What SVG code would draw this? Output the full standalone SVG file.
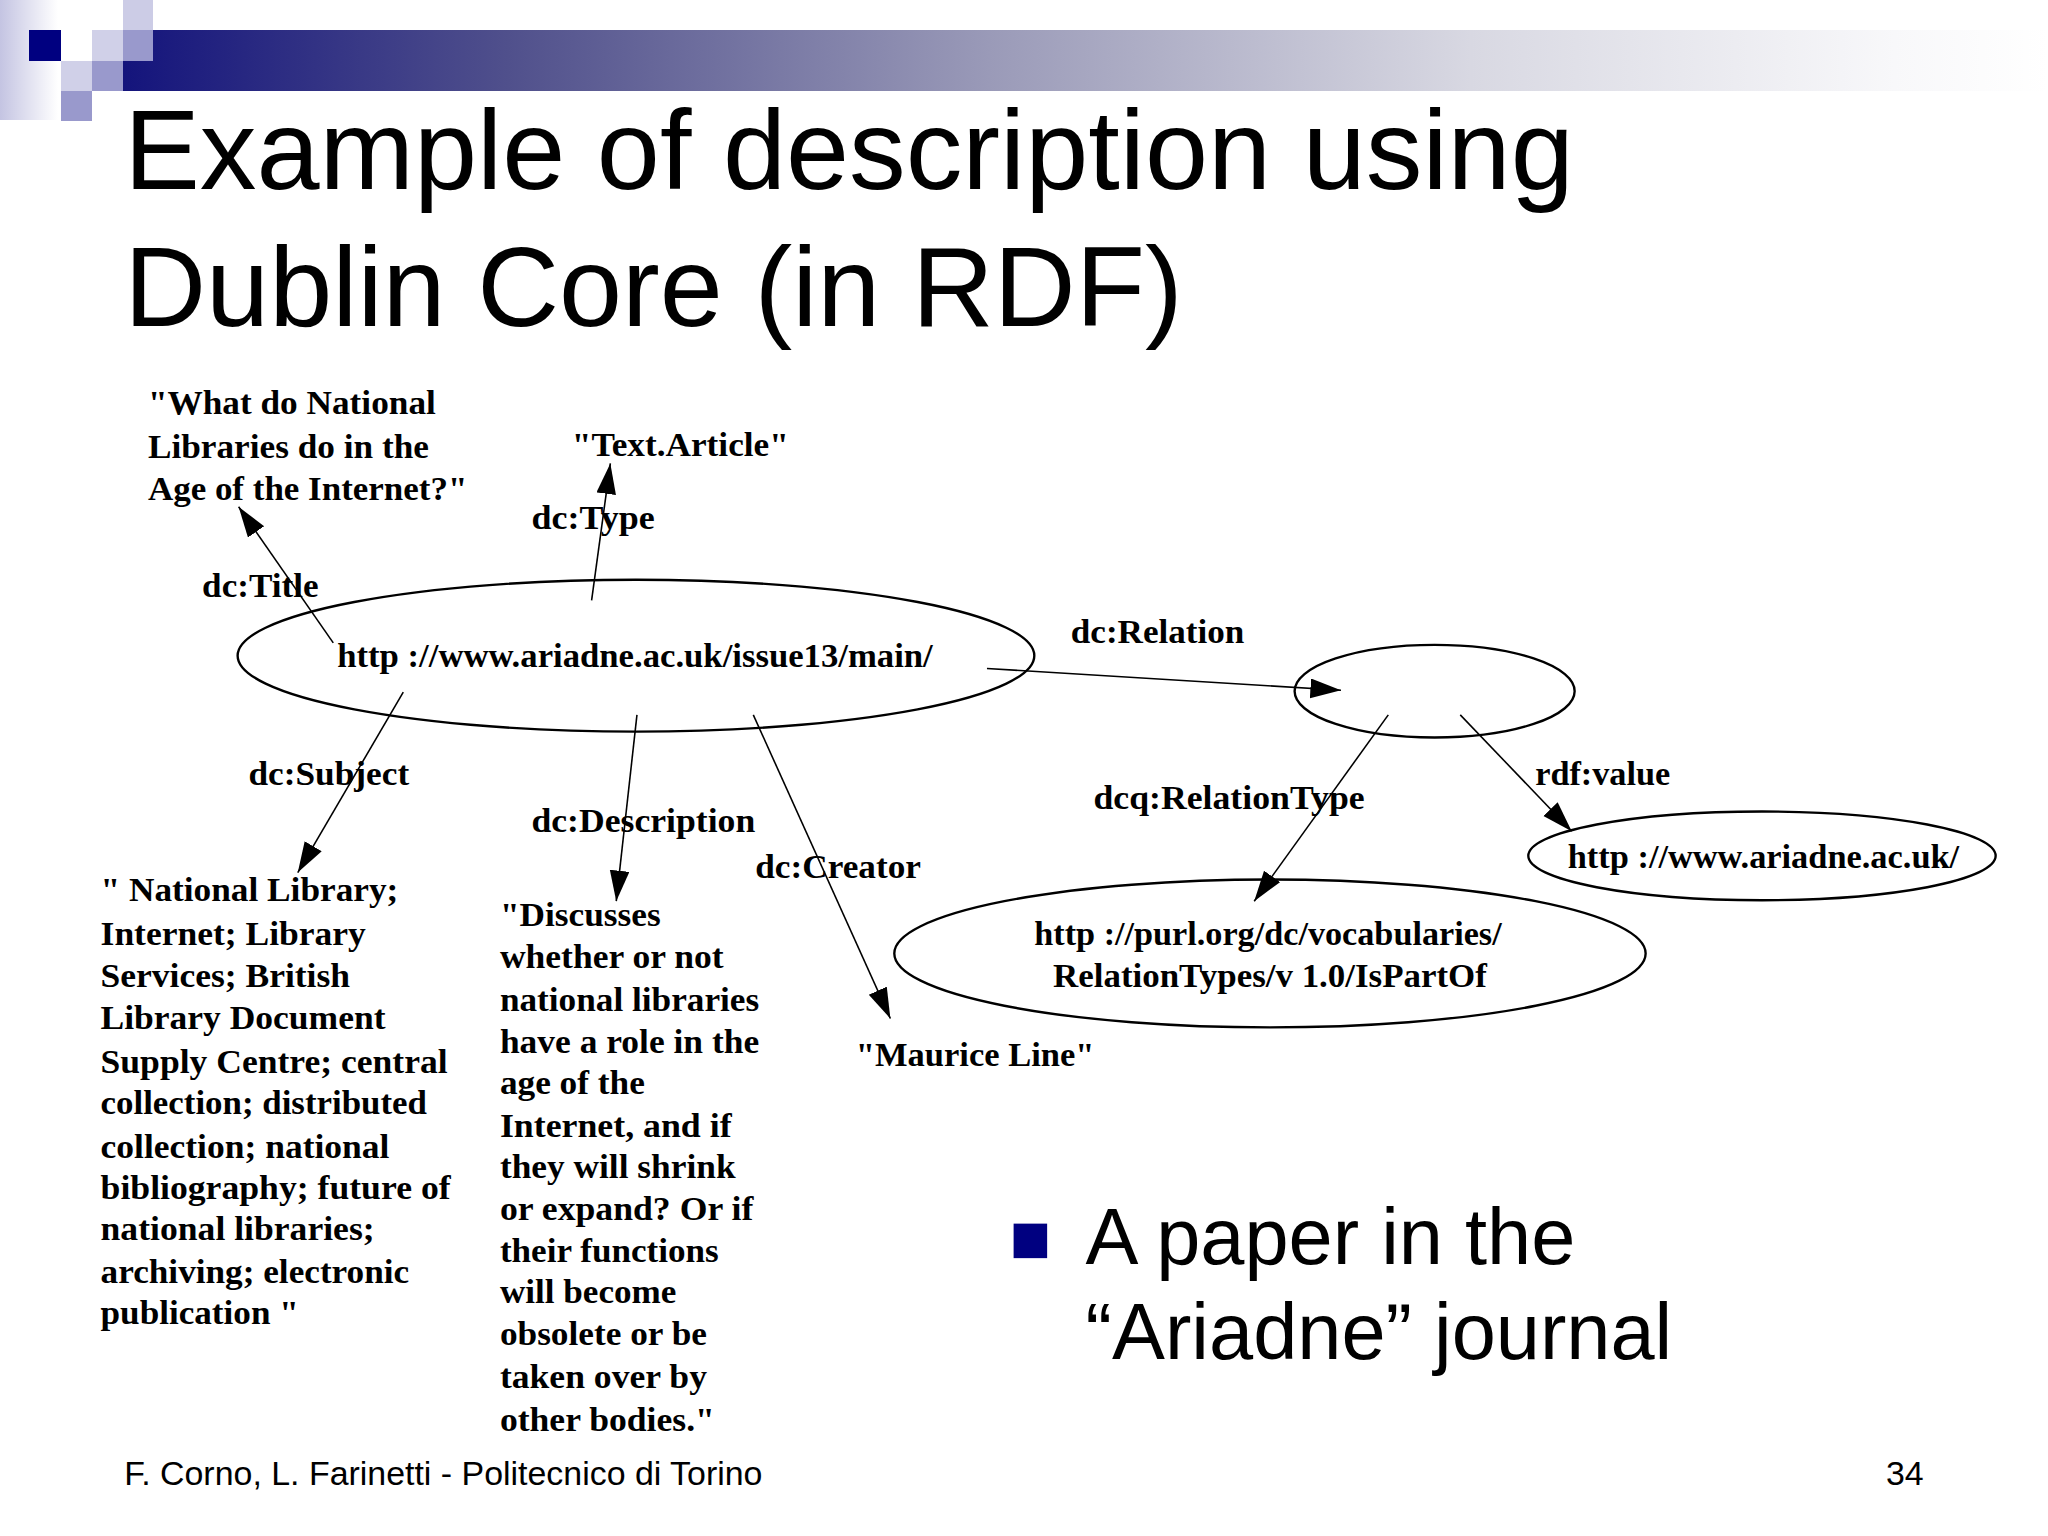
<svg xmlns="http://www.w3.org/2000/svg" width="2048" height="1536" viewBox="0 0 2048 1536">
<style>
.sans{font-family:"Liberation Sans",Arial,sans-serif;fill:#000}
.d{font-family:"Liberation Serif","Times New Roman",serif;font-weight:bold;font-size:35px;fill:#000}
.node{fill:none;stroke:#000;stroke-width:2.4}
.edge{fill:none;stroke:#000;stroke-width:1.6}
</style>
<defs>
<linearGradient id="bar" x1="0" y1="0" x2="1" y2="0">
<stop offset="0" stop-color="#14147c"/>
<stop offset="0.2" stop-color="#50508c"/>
<stop offset="0.45" stop-color="#9a9ab8"/>
<stop offset="0.7" stop-color="#d8d8e2"/>
<stop offset="0.92" stop-color="#f8f8fa"/>
<stop offset="1" stop-color="#ffffff"/>
</linearGradient>
<linearGradient id="strip" x1="0" y1="0" x2="1" y2="0">
<stop offset="0" stop-color="#c4c4e2"/>
<stop offset="1" stop-color="#ffffff"/>
</linearGradient>
<marker id="ah" markerUnits="userSpaceOnUse" markerWidth="34" markerHeight="22" refX="31" refY="10" orient="auto">
<path d="M0,0 L31,10 L0,20 z" fill="#000"/>
</marker>
</defs>
<rect width="2048" height="1536" fill="#fff"/>
<g id="decor">
<rect x="0" y="0" width="58" height="120" fill="url(#strip)"/>
<rect x="123" y="30" width="1925" height="61" fill="url(#bar)"/>
<rect x="29" y="30" width="32" height="31" fill="#000080"/>
<rect x="123" y="0" width="30" height="30" fill="#ccccE6"/>
<rect x="92" y="30" width="31" height="31" fill="#d0d0e8"/>
<rect x="123" y="30" width="30" height="31" fill="#9999cc"/>
<rect x="61" y="61" width="31" height="30" fill="#d0d0e8"/>
<rect x="92" y="61" width="31" height="30" fill="#9999cc"/>
<rect x="61" y="91" width="31" height="30" fill="#9999cc"/>
</g>
<g id="content" transform="scale(0.986)">
<g id="title">
<text class="sans" x="126" y="192" font-size="115">Example of description using</text>
<text class="sans" x="126" y="331" font-size="115">Dublin Core (in RDF)</text>
</g>
<g id="connectors">
<line class="edge" x1="338" y1="652" x2="242" y2="514" marker-end="url(#ah)"/>
<line class="edge" x1="600" y1="609" x2="619" y2="470" marker-end="url(#ah)"/>
<line class="edge" x1="409" y1="702" x2="302" y2="885" marker-end="url(#ah)"/>
<line class="edge" x1="646" y1="725" x2="625" y2="914" marker-end="url(#ah)"/>
<line class="edge" x1="764" y1="725" x2="903" y2="1033" marker-end="url(#ah)"/>
<line class="edge" x1="1001" y1="678" x2="1360" y2="700" stroke-width="2.4" marker-end="url(#ah)"/>
<line class="edge" x1="1408" y1="725" x2="1272" y2="914" marker-end="url(#ah)"/>
<line class="edge" x1="1481" y1="725" x2="1594" y2="843" marker-end="url(#ah)"/>
<text class="d" x="205" y="605" textLength="118" lengthAdjust="spacingAndGlyphs">dc:Title</text>
<text class="d" x="539" y="537" textLength="125" lengthAdjust="spacingAndGlyphs">dc:Type</text>
<text class="d" x="1086" y="652" textLength="176" lengthAdjust="spacingAndGlyphs">dc:Relation</text>
<text class="d" x="252" y="796" textLength="163" lengthAdjust="spacingAndGlyphs">dc:Subject</text>
<text class="d" x="539" y="844" textLength="227" lengthAdjust="spacingAndGlyphs">dc:Description</text>
<text class="d" x="766" y="890" textLength="168" lengthAdjust="spacingAndGlyphs">dc:Creator</text>
<text class="d" x="1109" y="820" textLength="275" lengthAdjust="spacingAndGlyphs">dcq:RelationType</text>
<text class="d" x="1557" y="796" textLength="137" lengthAdjust="spacingAndGlyphs">rdf:value</text>
</g>
<g id="main">
<ellipse class="node" cx="645" cy="665" rx="404" ry="77"/>
<text class="d" x="342" y="676" textLength="604" lengthAdjust="spacingAndGlyphs">http ://www.ariadne.ac.uk/issue13/main/</text>
</g>
<g id="blank">
<ellipse class="node" cx="1455" cy="701" rx="142" ry="47"/>
</g>
<g id="ariadne">
<ellipse class="node" cx="1787" cy="868" rx="237" ry="45"/>
<text class="d" x="1590" y="880" textLength="397" lengthAdjust="spacingAndGlyphs">http ://www.ariadne.ac.uk/</text>
</g>
<g id="purl">
<ellipse class="node" cx="1288" cy="967" rx="381" ry="75"/>
<text class="d" x="1049" y="958" textLength="474" lengthAdjust="spacingAndGlyphs">http ://purl.org/dc/vocabularies/</text>
<text class="d" x="1068" y="1001" textLength="440" lengthAdjust="spacingAndGlyphs">RelationTypes/v 1.0/IsPartOf</text>
</g>
<g id="title-value">
<text class="d" x="150" y="420" textLength="292" lengthAdjust="spacingAndGlyphs">"What do National</text>
<text class="d" x="150" y="464" textLength="285" lengthAdjust="spacingAndGlyphs">Libraries do in the</text>
<text class="d" x="150" y="507" textLength="324" lengthAdjust="spacingAndGlyphs">Age of the Internet?"</text>
</g>
<g id="type-value">
<text class="d" x="580" y="462" textLength="220" lengthAdjust="spacingAndGlyphs">"Text.Article"</text>
</g>
<g id="creator-value">
<text class="d" x="868" y="1081" textLength="242" lengthAdjust="spacingAndGlyphs">"Maurice Line"</text>
</g>
<g id="subject-value">
<text class="d" x="102" y="914" textLength="302" lengthAdjust="spacingAndGlyphs">" National Library;</text>
<text class="d" x="102" y="958" textLength="269" lengthAdjust="spacingAndGlyphs">Internet; Library</text>
<text class="d" x="102" y="1001" textLength="253" lengthAdjust="spacingAndGlyphs">Services; British</text>
<text class="d" x="102" y="1044" textLength="289" lengthAdjust="spacingAndGlyphs">Library Document</text>
<text class="d" x="102" y="1088" textLength="352" lengthAdjust="spacingAndGlyphs">Supply Centre; central</text>
<text class="d" x="102" y="1130" textLength="331" lengthAdjust="spacingAndGlyphs">collection; distributed</text>
<text class="d" x="102" y="1174" textLength="293" lengthAdjust="spacingAndGlyphs">collection; national</text>
<text class="d" x="102" y="1216" textLength="355" lengthAdjust="spacingAndGlyphs">bibliography; future of</text>
<text class="d" x="102" y="1258" textLength="278" lengthAdjust="spacingAndGlyphs">national libraries;</text>
<text class="d" x="102" y="1301" textLength="313" lengthAdjust="spacingAndGlyphs">archiving; electronic</text>
<text class="d" x="102" y="1343" textLength="201" lengthAdjust="spacingAndGlyphs">publication "</text>
</g>
<g id="description-value">
<text class="d" x="507" y="939" textLength="163" lengthAdjust="spacingAndGlyphs">"Discusses</text>
<text class="d" x="507" y="982" textLength="227" lengthAdjust="spacingAndGlyphs">whether or not</text>
<text class="d" x="507" y="1025" textLength="263" lengthAdjust="spacingAndGlyphs">national libraries</text>
<text class="d" x="507" y="1068" textLength="263" lengthAdjust="spacingAndGlyphs">have a role in the</text>
<text class="d" x="507" y="1110" textLength="147" lengthAdjust="spacingAndGlyphs">age of the</text>
<text class="d" x="507" y="1153" textLength="235" lengthAdjust="spacingAndGlyphs">Internet, and if</text>
<text class="d" x="507" y="1195" textLength="239" lengthAdjust="spacingAndGlyphs">they will shrink</text>
<text class="d" x="507" y="1237" textLength="257" lengthAdjust="spacingAndGlyphs">or expand? Or if</text>
<text class="d" x="507" y="1280" textLength="222" lengthAdjust="spacingAndGlyphs">their functions</text>
<text class="d" x="507" y="1322" textLength="179" lengthAdjust="spacingAndGlyphs">will become</text>
<text class="d" x="507" y="1364" textLength="210" lengthAdjust="spacingAndGlyphs">obsolete or be</text>
<text class="d" x="507" y="1408" textLength="210" lengthAdjust="spacingAndGlyphs">taken over by</text>
<text class="d" x="507" y="1451" textLength="218" lengthAdjust="spacingAndGlyphs">other bodies."</text>
</g>
<g id="bullet">
<rect x="1028" y="1241" width="34" height="35" fill="#000080"/>
<text class="sans" x="1101" y="1282" font-size="80.5">A paper in the</text>
<text class="sans" x="1101" y="1378" font-size="80.5">“Ariadne” journal</text>
</g>
<g id="footer">
<text class="sans" x="126" y="1506" font-size="34.4">F. Corno, L. Farinetti - Politecnico di Torino</text>
<text class="sans" x="1951" y="1506" font-size="34.4" text-anchor="end">34</text>
</g>
</g>
</svg>
